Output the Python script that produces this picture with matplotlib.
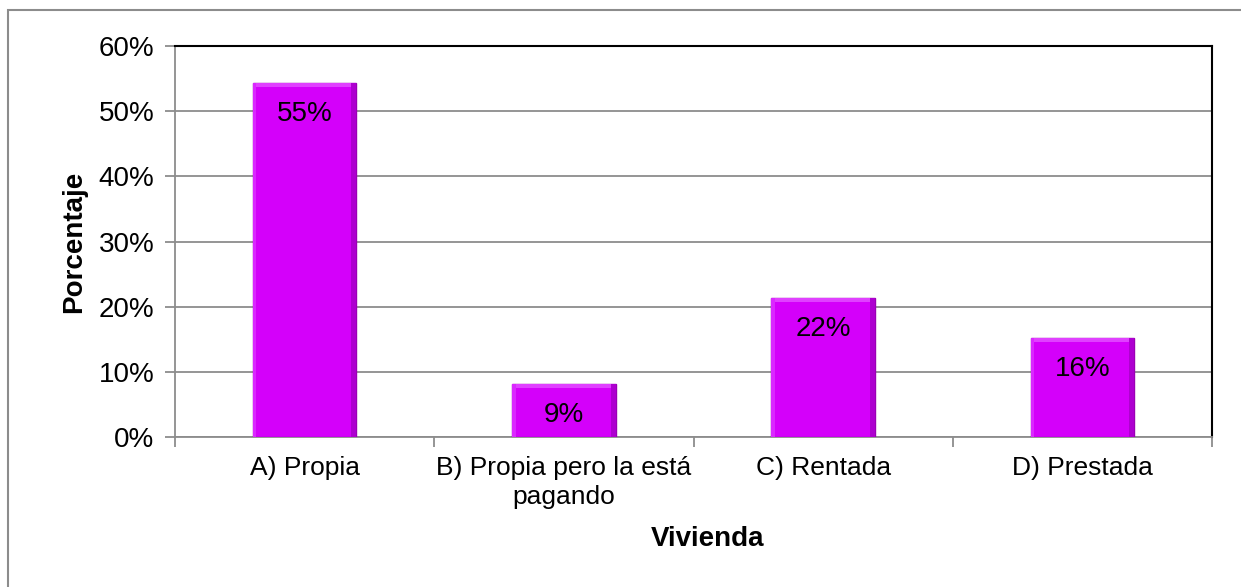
## Vivienda chart - bar chart with bevel-ish bars
import numpy as np
import matplotlib.pyplot as plt
from matplotlib.patches import Rectangle
from matplotlib.ticker import FixedLocator, PercentFormatter

## -------- Data
categorias = ['A) Propia', 'B) Propia pero la está\npagando', 'C) Rentada', 'D) Prestada']
porcentajes = [54.3, 8.1, 21.3, 15.2]   # bar heights
etiquetas = ['55%', '9%', '22%', '16%']  # labels as printed on the bars

plt.rcParams['font.family'] = ['Liberation Sans', 'DejaVu Sans']
fs = 20

fig = plt.figure(figsize=(12.41, 5.87), dpi=100)
ax = fig.add_axes([175/1241, 1 - 437/587, 1037/1241, 391/587])

# outer chart frame (cut off at bottom/right like the original)
fig.patches.append(Rectangle((8/1241, -0.1), 1.2, 1.1 - 10/587, transform=fig.transFigure,
                             fill=False, edgecolor='#8c8c8c', linewidth=1.5, clip_on=False))

x = np.arange(len(categorias))
w = 0.4
base = '#D400FA'

# main bars
ax.bar(x, porcentajes, width=w, color=base, edgecolor='#9b00b5', linewidth=1, zorder=3)
# bevel: lighter top strip and darker right strip
ax.bar(x, [0.6]*len(x), bottom=np.array(porcentajes) - 0.6, width=w,
       color='#E040FF', linewidth=0, zorder=4)
ax.bar(x + w/2 - 0.01, porcentajes, width=0.02, color='#AE00D0', linewidth=0, zorder=4)
ax.bar(x - w/2 + 0.007, porcentajes, width=0.014, color='#DA28FF', linewidth=0, zorder=4)

for xi, v, t in zip(x, porcentajes, etiquetas):
    ax.annotate(t, (xi, v), xytext=(0, -22), textcoords='offset points',
                ha='center', va='center', fontsize=fs, color='black', zorder=5)

ax.set_xlim(-0.5, len(categorias) - 0.5)
ax.set_ylim(0, 60)
ax.set_yticks(np.arange(0, 61, 10))
ax.yaxis.set_major_formatter(PercentFormatter(decimals=0))
ax.grid(axis='y', color='#8c8c8c', linewidth=1.3, zorder=0)
ax.set_axisbelow(True)

# ticks at category boundaries, labels at centres
ax.xaxis.set_major_locator(FixedLocator(np.arange(-0.5, len(categorias), 1)))
ax.xaxis.set_minor_locator(FixedLocator(x))
ax.set_xticklabels([], minor=False)
ax.set_xticklabels(categorias, minor=True, fontsize=19, linespacing=1.25)
ax.tick_params(axis='x', which='major', direction='out', length=7, width=1.3, color='#8c8c8c')
ax.tick_params(axis='x', which='minor', length=0, pad=14)
ax.tick_params(axis='y', direction='out', length=7, width=1.3, color='#8c8c8c', labelsize=fs, pad=8)

for s in ['left', 'bottom']:
    ax.spines[s].set_color('#8c8c8c')
    ax.spines[s].set_linewidth(1.3)
for s in ['top', 'right']:
    ax.spines[s].set_color('black')
    ax.spines[s].set_linewidth(1.5)

ax.set_ylabel('Porcentaje', fontsize=fs, fontweight='bold')
ax.yaxis.set_label_coords(-0.085, 0.5)
ax.set_xlabel('Vivienda', fontsize=fs, fontweight='bold')
ax.xaxis.set_label_coords((708 - 175)/1037, -0.228)

fig.savefig('out.png', dpi=100)
